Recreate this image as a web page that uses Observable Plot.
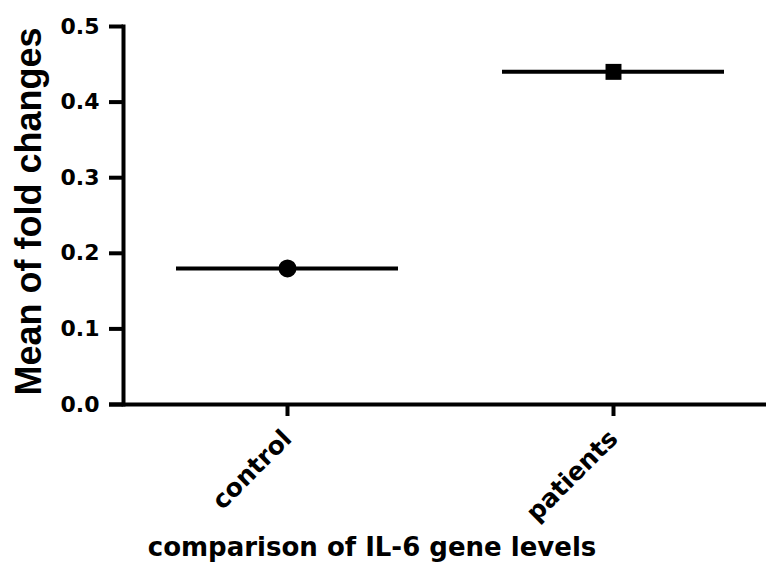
<!DOCTYPE html>
<html><head><meta charset="utf-8">
<script src="https://cdn.jsdelivr.net/npm/d3@7"></script>
<script src="https://cdn.jsdelivr.net/npm/@observablehq/plot@0.6"></script>
<style>body{margin:0;background:#fff}</style>
</head><body><div id="chart"></div>
<script>
const groups = ["control", "patients"];
const means = [0.18, 0.44];
const symbols = ["circle", "square"];
const yTicks = [0, 0.1, 0.2, 0.3, 0.4, 0.5];
const xTitle = "comparison of IL-6 gene levels";
const yTitle = "Mean of fold changes";

const data = groups.map((g, i) => ({group: g, mean: means[i], symbol: symbols[i]}));

const chart = Plot.plot({
  width: 766, height: 564,
  marginLeft: 123, marginRight: 0, marginTop: 26, marginBottom: 160,
  style: {fontFamily: "DejaVu Sans", fontWeight: "bold", fontSize: "22px", color: "#000", background: "#fff"},
  x: {domain: groups, range: [70.2, 828.8], padding: 0.32, axis: null},
  y: {domain: [0, 0.5], axis: null},
  marks: [
    Plot.axisY({ticks: yTicks, tickFormat: d3.format(".1f"), tickSize: 14, tickPadding: 10, strokeWidth: 4, fontSize: 22, fontWeight: "bold", label: null}),
    Plot.axisX({tickSize: 12, tickPadding: 18, tickRotate: -45, strokeWidth: 4, fontSize: 25, fontWeight: "bold", label: null}),
    Plot.frame({anchor: "left", strokeWidth: 4}),
    Plot.ruleY([0], {insetLeft: -14, strokeWidth: 4}),
    Plot.tickY(data, {x: "group", y: "mean", strokeWidth: 4}),
    Plot.dot(data, {x: "group", y: "mean", symbol: "symbol", r: 9, fill: "#000", stroke: "none"}),
    Plot.text([xTitle], {frameAnchor: "bottom", textAnchor: "middle", dx: -73, dy: 151, lineAnchor: "bottom", fontSize: 26, fontWeight: "bold"}),
    Plot.text([yTitle], {frameAnchor: "left", textAnchor: "middle", rotate: -90, dx: -83, dy: -4, lineAnchor: "bottom", fontSize: 36, fontWeight: "bold", fontFamily: "Liberation Sans"})
  ]
});
document.getElementById("chart").append(chart);
</script>
</body></html>
